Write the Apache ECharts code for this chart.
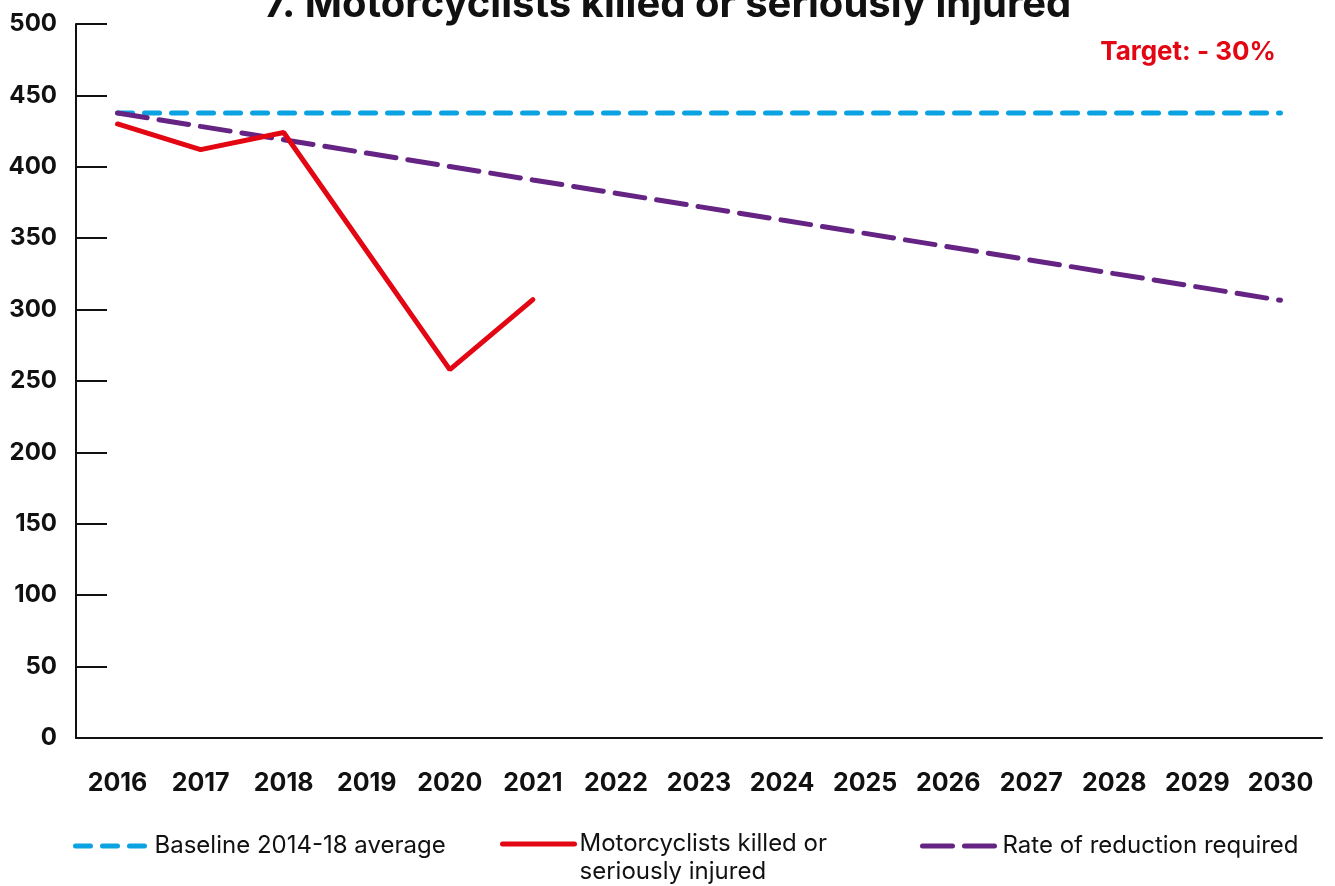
<!DOCTYPE html>
<html>
<head>
<meta charset="utf-8">
<title>Motorcyclists killed or seriously injured</title>
<script src="https://cdn.jsdelivr.net/npm/echarts@6/dist/echarts.min.js"></script>
<style>
  html, body { margin: 0; padding: 0; background: #fff; }
  #chart { width: 1335px; height: 886px; }
</style>
</head>
<body>
<div id="chart"></div>
<script>
// chart data
var years = ['2016', '2017', '2018', '2019', '2020', '2021', '2022', '2023',
  '2024', '2025', '2026', '2027', '2028', '2029', '2030']
var baseline = [437.7, 437.7, 437.7, 437.7, 437.7, 437.7, 437.7, 437.7,
  437.7, 437.7, 437.7, 437.7, 437.7, 437.7, 437.7]
var ksi = [430, 412, 424, 341, 258, 307]
var reduction = [437.7, 428.3, 419.0, 409.6, 400.2, 390.8, 381.5, 372.1,
  362.7, 353.4, 344.0, 334.6, 325.2, 315.9, 306.5]
var yTicks = { min: 0, max: 500, step: 50 }

var names = ['Baseline 2014-18 average', 'Motorcyclists killed or seriously injured', 'Rate of reduction required']
var colors = ['#0aa2e0', '#e30613', '#652484']
var dashes = [[15, 12], 'solid', [30, 12]]
var font = 'Inter, "Noto Sans", sans-serif'
var ink = '#111111'

var chart = echarts.init(document.getElementById('chart'))

// one legend per item so each can sit where the original puts it
function legendAt(i, left, width, extra) {
  var lg = {
    data: [names[i]],
    left: left,
    top: 834,
    padding: 0,
    itemWidth: width,
    itemHeight: 14,
    selectedMode: false,
    itemStyle: { opacity: 0 },
    lineStyle: { color: colors[i], width: 5, type: dashes[i], cap: 'round' },
    textStyle: { fontFamily: font, fontSize: 24, color: ink }
  }
  return Object.assign(lg, extra || {})
}

chart.setOption({
  animation: false,
  title: [{
    text: '7. Motorcyclists killed or seriously injured',
    left: 'center',
    top: -15,
    padding: 0,
    textStyle: { fontFamily: font, fontSize: 40, fontWeight: 'bold', color: ink }
  }, {
    text: 'Target: - 30%',
    right: 59,
    top: 39,
    padding: 0,
    textStyle: { fontFamily: font, fontSize: 26, fontWeight: 'bold', color: colors[1] }
  }],
  grid: { left: 76, right: 13, top: 24, bottom: 148, containLabel: false },
  legend: [
    legendAt(0, 73, 74),
    legendAt(1, 500, 72, {
      top: 802,
      // empty first line keeps "Motorcyclists killed or" level with the icon
      formatter: function () { return '\nMotorcyclists killed or\nseriously injured' },
      textStyle: { fontFamily: font, fontSize: 24, color: ink, lineHeight: 28 }
    }),
    legendAt(2, 920, 75)
  ],
  xAxis: {
    type: 'category',
    data: years,
    boundaryGap: true,
    axisLine: { lineStyle: { color: ink, width: 2 } },
    axisTick: { inside: true, length: 18, interval: 0, lineStyle: { color: ink, width: 2 } },
    axisLabel: { interval: 0, margin: 33, fontFamily: font, fontSize: 25, fontWeight: 'bold', color: ink },
    splitLine: { show: false }
  },
  yAxis: {
    type: 'value',
    min: yTicks.min,
    max: yTicks.max,
    interval: yTicks.step,
    axisLine: { show: true, lineStyle: { color: ink, width: 2 } },
    axisTick: { show: true, inside: true, length: 31, lineStyle: { color: ink, width: 2 } },
    axisLabel: { margin: 19, fontFamily: font, fontSize: 24, fontWeight: 'bold', color: ink },
    splitLine: { show: false }
  },
  series: [{
    name: names[0],
    type: 'line',
    data: baseline,
    symbol: 'none',
    z: 2,
    lineStyle: { color: colors[0], width: 5, type: dashes[0], cap: 'round' },
    itemStyle: { color: colors[0] }
  }, {
    name: names[1],
    type: 'line',
    data: ksi,
    symbol: 'none',
    z: 4,
    lineStyle: { color: colors[1], width: 5, cap: 'round' },
    itemStyle: { color: colors[1] }
  }, {
    name: names[2],
    type: 'line',
    data: reduction,
    symbol: 'none',
    z: 3,
    lineStyle: { color: colors[2], width: 5, type: dashes[2], cap: 'round' },
    itemStyle: { color: colors[2] }
  }]
})
</script>
</body>
</html>
